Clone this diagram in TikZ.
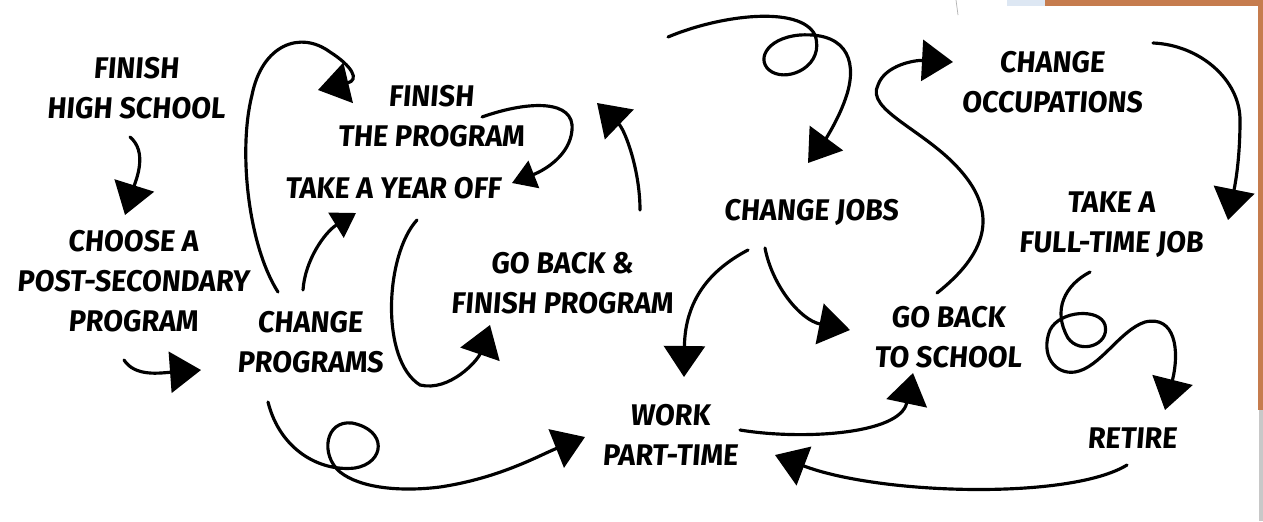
\documentclass[tikz,border=0pt]{standalone}
\usepackage{fontspec}
\setmainfont{Fira Sans}[FakeStretch=0.96,FakeSlant=0.08]
\usetikzlibrary{arrows.meta}
\definecolor{slideorange}{RGB}{198,124,78}
\definecolor{slideblue}{RGB}{221,231,243}
\definecolor{slidegray}{RGB}{200,200,200}
\begin{document}
\begin{tikzpicture}[x=0.02cm, y=-0.02cm,
    stage/.style={font=\fontsize{17pt}{22.7pt}\selectfont\bfseries, align=center, inner sep=0pt},
    route/.style={line width=1.8pt, line cap=round, -{Triangle[length=0.62cm,width=0.82cm]}},
    small route/.style={route, -{Triangle[length=0.47cm,width=0.58cm]}}]
        \useasboundingbox (0,0) rectangle (1263,521);
        % Slide edges behind the picture
        \fill[white] (0,0) rectangle (1263,521);
        \fill[slideblue] (1007,0) rectangle (1045,6);
        \fill[slideorange] (1045,0) rectangle (1263,6);
        \fill[slideorange] (1258,0) rectangle (1263,410);
        \fill[slidegray] (1259,410) rectangle (1263,521);
        \draw[gray!60, line width=0.4pt] (956,0) -- (958,15);

        % The stages
        \node[stage] (hs) at (136,88) {FINISH\\HIGH SCHOOL};
        \node[stage] (choose) at (133,281) {CHOOSE A\\POST-SECONDARY\\PROGRAM};
        \node[stage] (finish) at (431,116) {FINISH\\THE PROGRAM};
        \node[stage] (yearoff) at (393,188) {TAKE A YEAR OFF};
        \node[stage] (changeprog) at (310,342) {CHANGE\\PROGRAMS};
        \node[stage] (gobackfinish) at (562,283) {GO BACK \&\\FINISH PROGRAM};
        \node[stage] (changejobs) at (811,212) {CHANGE JOBS};
        \node[stage] (parttime) at (670,435) {WORK\\PART-TIME};
        \node[stage] (school) at (948,337) {GO BACK\\TO SCHOOL};
        \node[stage] (occupations) at (1052,82) {CHANGE\\OCCUPATIONS};
        \node[stage] (fulltime) at (1111,225) {TAKE A\\FULL-TIME JOB};
        \node[stage] (retire) at (1132,438) {RETIRE};

        % Loose ends of the curves
        \coordinate (hs-out) at (130,137);
        \coordinate (choose-in) at (125,215);
        \coordinate (choose-out) at (124,360);
        \coordinate (changeprog-in) at (201,370);
        \coordinate (changeprog-up) at (278,292);
        \coordinate (finish-in) at (318,90);
        \coordinate (changeprog-right) at (303,290);
        \coordinate (yearoff-in) at (356,213);
        \coordinate (finish-out) at (482,117);
        \coordinate (yearoff-loop) at (512,183);
        \coordinate (yearoff-out) at (417,220);
        \coordinate (gobackfinish-in) at (490,325);
        \coordinate (gobackfinish-out) at (640,210);
        \coordinate (finish-back) at (597,103);
        \coordinate (drift) at (668,37);
        \coordinate (changejobs-in) at (808,163);
        \coordinate (changejobs-left) at (748,250);
        \coordinate (parttime-in) at (684,377);
        \coordinate (changejobs-right) at (765,248);
        \coordinate (school-in) at (850,330);
        \coordinate (parttime-out) at (740,430);
        \coordinate (school-below) at (913,373);
        \coordinate (school-out) at (937,293);
        \coordinate (occupations-in) at (953,62);
        \coordinate (occupations-out) at (1153,43);
        \coordinate (fulltime-in) at (1228,220);
        \coordinate (fulltime-out) at (1090,272);
        \coordinate (retire-in) at (1165,410);
        \coordinate (retire-out) at (1127,465);
        \coordinate (parttime-right) at (775,455);
        \coordinate (changeprog-down) at (268,402);
        \coordinate (parttime-left) at (585,437);

        % The wandering paths
        \draw[route] (hs-out) .. controls (148,152) and (136,180) .. (choose-in);
        \draw[route] (choose-out) .. controls (135,377) and (160,373) .. (changeprog-in);
        \draw[route] (changeprog-up) .. controls (248,245) and (238,150) .. (252,95)
            .. controls (262,45) and (300,30) .. (330,52)
            .. controls (352,66) and (360,80) .. (finish-in);
        \draw[small route] (changeprog-right) .. controls (305,260) and (325,232) .. (yearoff-in);
        \draw[small route] (finish-out) .. controls (530,100) and (575,100) .. (572,130)
            .. controls (570,155) and (545,170) .. (yearoff-loop);
        \draw[route] (yearoff-out) .. controls (385,255) and (380,360) .. (420,385)
            .. controls (450,392) and (478,360) .. (gobackfinish-in);
        \draw[route] (gobackfinish-out) .. controls (640,170) and (625,130) .. (finish-back);
        \draw[route] (drift) .. controls (720,15) and (800,5) .. (815,35)
            .. controls (825,65) and (790,82) .. (772,72)
            .. controls (755,62) and (765,38) .. (800,35)
            .. controls (850,32) and (858,65) .. (845,100)
            .. controls (838,120) and (825,140) .. (changejobs-in);
        \draw[route] (changejobs-left) .. controls (710,270) and (685,300) .. (parttime-in);
        \draw[route] (changejobs-right) .. controls (772,285) and (800,320) .. (school-in);
        \draw[route] (parttime-out) .. controls (800,440) and (900,435) .. (school-below);
        \draw[route] (school-out) .. controls (985,255) and (1000,215) .. (960,170)
            .. controls (925,130) and (865,110) .. (878,85)
            .. controls (885,65) and (915,60) .. (occupations-in);
        \draw[route] (occupations-out) .. controls (1200,45) and (1240,80) .. (1240,120)
            .. controls (1240,160) and (1235,185) .. (fulltime-in);
        \draw[route] (fulltime-out) .. controls (1065,285) and (1052,310) .. (1068,338)
            .. controls (1080,355) and (1110,345) .. (1105,325)
            .. controls (1100,308) and (1060,310) .. (1050,330)
            .. controls (1040,355) and (1055,375) .. (1075,372)
            .. controls (1100,368) and (1120,330) .. (1145,322)
            .. controls (1175,315) and (1180,350) .. (retire-in);
        \draw[route] (retire-out) .. controls (1070,500) and (880,495) .. (parttime-right);
        \draw[route] (changeprog-down) .. controls (280,450) and (320,472) .. (355,468)
            .. controls (385,463) and (388,430) .. (352,423)
            .. controls (325,420) and (320,455) .. (340,472)
            .. controls (360,488) and (400,492) .. (440,487)
            .. controls (500,478) and (540,455) .. (parttime-left);
\end{tikzpicture}
\end{document}
